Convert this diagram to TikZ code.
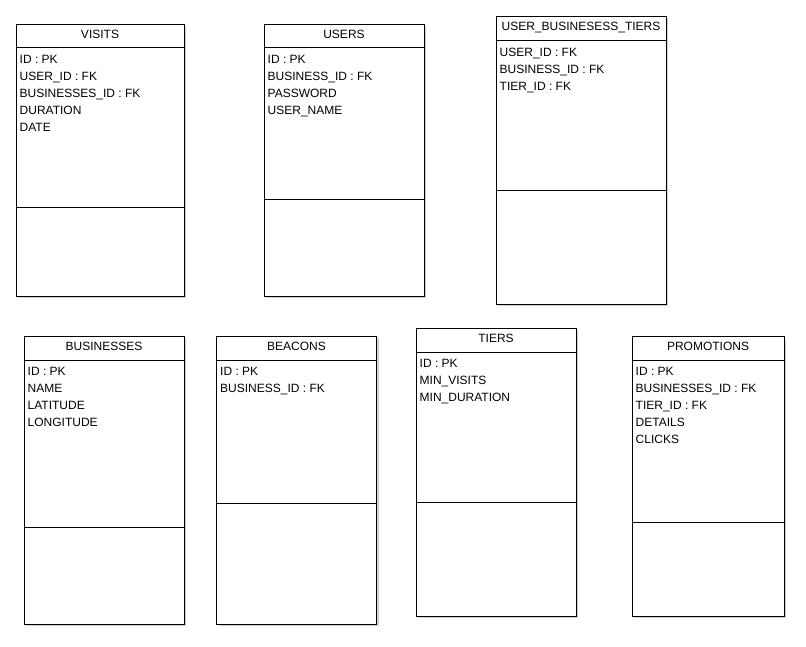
\documentclass[tikz,border=0pt]{standalone}
\usepackage{fontspec}
\setmainfont{Liberation Sans}
\newcommand\ertable[9]{%
  \fill[black!18] ({#2+2},{#3+2}) rectangle ({#4+2},{#7+2});
  \node[tblbox, minimum width={(#4-#2)*1pt}, minimum height={(#7-#3)*1pt}] (#1) at ({(#2+#4)/2},{(#3+#7)/2}) {};
  \draw[tblline] (#1.west |- 0,#5) -- (#1.east |- 0,#5);
  \draw[tblline] (#1.west |- 0,#6) -- (#1.east |- 0,#6);
  \node[tbltext, anchor=base] (#1-title) at ({(#2+#4)/2},{#3+14.3}) {#8};
  \foreach \a [count=\i] in {#9} {
    \node[tbltext, anchor=base west] (#1-a\i) at ({#2+3.5},{#5+15.5+17*(\i-1)}) {\a};
  }%
}
\begin{document}
\begin{tikzpicture}[x=1pt,y=-1pt,
  tblbox/.style={draw=black, line width=1pt, fill=white, inner sep=0pt, outer sep=0pt},
  tblline/.style={draw=black, line width=1pt},
  tbltext/.style={inner sep=0pt, font=\fontsize{12}{14}\selectfont}]
\useasboundingbox[fill=white] (0,0) rectangle (806,646);
\ertable{visits}{16}{24}{184}{47.5}{207.5}{296}{VISITS}{ID : PK, USER\_ID : FK, BUSINESSES\_ID : FK, DURATION, DATE}
\ertable{users}{264}{24}{424}{47.5}{199.5}{296}{USERS}{ID : PK, BUSINESS\_ID : FK, PASSWORD, USER\_NAME}
\ertable{ubt}{496}{16}{666}{40.5}{190.5}{304}{USER\_BUSINESESS\_TIERS}{USER\_ID : FK, BUSINESS\_ID : FK, TIER\_ID : FK}
\ertable{businesses}{24}{336}{184}{360}{527}{624}{BUSINESSES}{ID : PK, NAME, LATITUDE, LONGITUDE}
\ertable{beacons}{216.5}{336}{376.5}{360}{503}{624}{BEACONS}{ID : PK, BUSINESS\_ID : FK}
\ertable{tiers}{416}{328}{576}{352}{502}{616}{TIERS}{ID : PK, MIN\_VISITS, MIN\_DURATION}
\ertable{promotions}{632}{336.5}{784}{360}{522}{616}{PROMOTIONS}{ID : PK, BUSINESSES\_ID : FK, TIER\_ID : FK, DETAILS, CLICKS}
\end{tikzpicture}
\end{document}
